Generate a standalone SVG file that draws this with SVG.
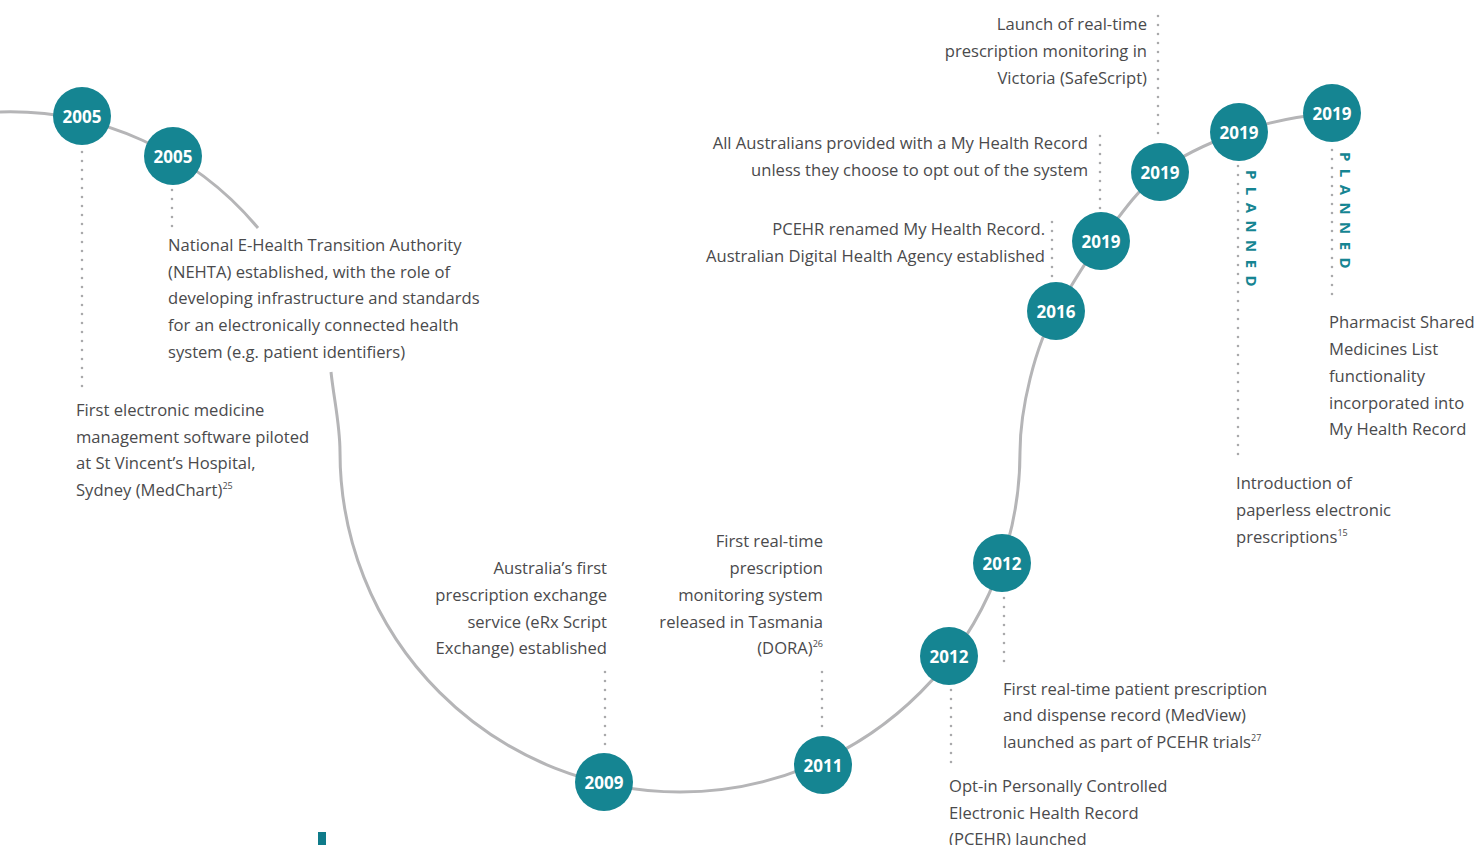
<svg xmlns="http://www.w3.org/2000/svg" width="1477" height="845" viewBox="0 0 1477 845">
<style>
.curve{fill:none;stroke:#b5b5b7;stroke-width:3}
.dot{fill:none;stroke:#a9a9ab;stroke-width:2.6;stroke-linecap:round;stroke-dasharray:0 9}
.node circle{fill:#158592}
.yr{font-family:"Open Sans","Liberation Sans",sans-serif;font-weight:700;font-size:17px;fill:#ffffff;text-anchor:middle}
.t{font-family:"Open Sans","Liberation Sans",sans-serif;font-size:16.6px;fill:#4a4a4c}
.r{text-anchor:end}
.sup{font-size:9px}
.pl{font-family:"Open Sans","Liberation Sans",sans-serif;font-weight:700;font-size:15px;fill:#158592;letter-spacing:7.4px}
</style>
<rect width="1477" height="845" fill="#ffffff"/>
<g id="connectors">
<path class="curve" d="M0,112 A323 323 0 0 1 258,228"/>
<path class="curve" d="M331,372 C334,400 340,425 340,452 A340 340 0 0 0 1020,452 C1020,410 1035,345 1056,311 C1071,287 1084,263 1101,241 C1119,217 1136.5,191 1160,172 C1183,154 1211,142 1239,132 C1269,121.5 1300,116 1332,113"/>
<path class="dot" d="M82,152 V392"/>
<path class="dot" d="M172,190 V228"/>
<path class="dot" d="M605,672 V750"/>
<path class="dot" d="M822,672 V733"/>
<path class="dot" d="M951,690 V770"/>
<path class="dot" d="M1004,598 V668"/>
<path class="dot" d="M1052,222 V280"/>
<path class="dot" d="M1100,136 V210"/>
<path class="dot" d="M1158,16 V142"/>
<path class="dot" d="M1238,166 V456"/>
<path class="dot" d="M1332,150 V300"/>
</g>
<g id="n2005a" class="node"><circle cx="82" cy="116" r="29"/><text class="yr" x="82" y="123">2005</text></g>
<g id="n2005b" class="node"><circle cx="173" cy="156" r="29"/><text class="yr" x="173" y="163">2005</text></g>
<g id="n2009" class="node"><circle cx="604" cy="782" r="29"/><text class="yr" x="604" y="789">2009</text></g>
<g id="n2011" class="node"><circle cx="823" cy="765" r="29"/><text class="yr" x="823" y="772">2011</text></g>
<g id="n2012a" class="node"><circle cx="949" cy="656" r="29"/><text class="yr" x="949" y="663">2012</text></g>
<g id="n2012b" class="node"><circle cx="1002" cy="563" r="29"/><text class="yr" x="1002" y="570">2012</text></g>
<g id="n2016" class="node"><circle cx="1056" cy="311" r="29"/><text class="yr" x="1056" y="318">2016</text></g>
<g id="n2019a" class="node"><circle cx="1101" cy="241" r="29"/><text class="yr" x="1101" y="248">2019</text></g>
<g id="n2019b" class="node"><circle cx="1160" cy="172" r="29"/><text class="yr" x="1160" y="179">2019</text></g>
<g id="n2019c" class="node"><circle cx="1239" cy="132" r="29"/><text class="yr" x="1239" y="139">2019</text></g>
<g id="n2019d" class="node"><circle cx="1332" cy="113" r="29"/><text class="yr" x="1332" y="120">2019</text></g>
<g id="planned">
<text class="pl" transform="translate(1246,170) rotate(90)">PLANNED</text>
<text class="pl" transform="translate(1340,152) rotate(90)">PLANNED</text>
</g>
<g id="labels">
<text class="t" x="76" y="416">First electronic medicine</text>
<text class="t" x="76" y="443">management software piloted</text>
<text class="t" x="76" y="469">at St Vincent’s Hospital,</text>
<text class="t" x="76" y="496">Sydney (MedChart)<tspan class="sup" dy="-7">25</tspan></text>

<text class="t" x="168" y="251">National E-Health Transition Authority</text>
<text class="t" x="168" y="278">(NEHTA) established, with the role of</text>
<text class="t" x="168" y="304">developing infrastructure and standards</text>
<text class="t" x="168" y="331">for an electronically connected health</text>
<text class="t" x="168" y="358">system (e.g. patient identifiers)</text>

<text class="t r" x="607" y="574">Australia’s first</text>
<text class="t r" x="607" y="601">prescription exchange</text>
<text class="t r" x="607" y="628">service (eRx Script</text>
<text class="t r" x="607" y="654">Exchange) established</text>

<text class="t r" x="823" y="547">First real-time</text>
<text class="t r" x="823" y="574">prescription</text>
<text class="t r" x="823" y="601">monitoring system</text>
<text class="t r" x="823" y="628">released in Tasmania</text>
<text class="t r" x="823" y="654">(DORA)<tspan class="sup" dy="-7">26</tspan></text>

<text class="t" x="1003" y="695">First real-time patient prescription</text>
<text class="t" x="1003" y="721">and dispense record (MedView)</text>
<text class="t" x="1003" y="748">launched as part of PCEHR trials<tspan class="sup" dy="-7">27</tspan></text>

<text class="t" x="949" y="792">Opt-in Personally Controlled</text>
<text class="t" x="949" y="819">Electronic Health Record</text>
<text class="t" x="949" y="845">(PCEHR) launched</text>

<text class="t r" x="1045" y="235">PCEHR renamed My Health Record.</text>
<text class="t r" x="1045" y="262">Australian Digital Health Agency established</text>

<text class="t r" x="1088" y="149">All Australians provided with a My Health Record</text>
<text class="t r" x="1088" y="176">unless they choose to opt out of the system</text>

<text class="t r" x="1147" y="30">Launch of real-time</text>
<text class="t r" x="1147" y="57">prescription monitoring in</text>
<text class="t r" x="1147" y="84">Victoria (SafeScript)</text>

<text class="t" x="1236" y="489">Introduction of</text>
<text class="t" x="1236" y="516">paperless electronic</text>
<text class="t" x="1236" y="543">prescriptions<tspan class="sup" dy="-7">15</tspan></text>

<text class="t" x="1329" y="328">Pharmacist Shared</text>
<text class="t" x="1329" y="355">Medicines List</text>
<text class="t" x="1329" y="382">functionality</text>
<text class="t" x="1329" y="409">incorporated into</text>
<text class="t" x="1329" y="435">My Health Record</text>
</g>
<rect x="318" y="832" width="8" height="13" fill="#0f7b8a"/>
</svg>
